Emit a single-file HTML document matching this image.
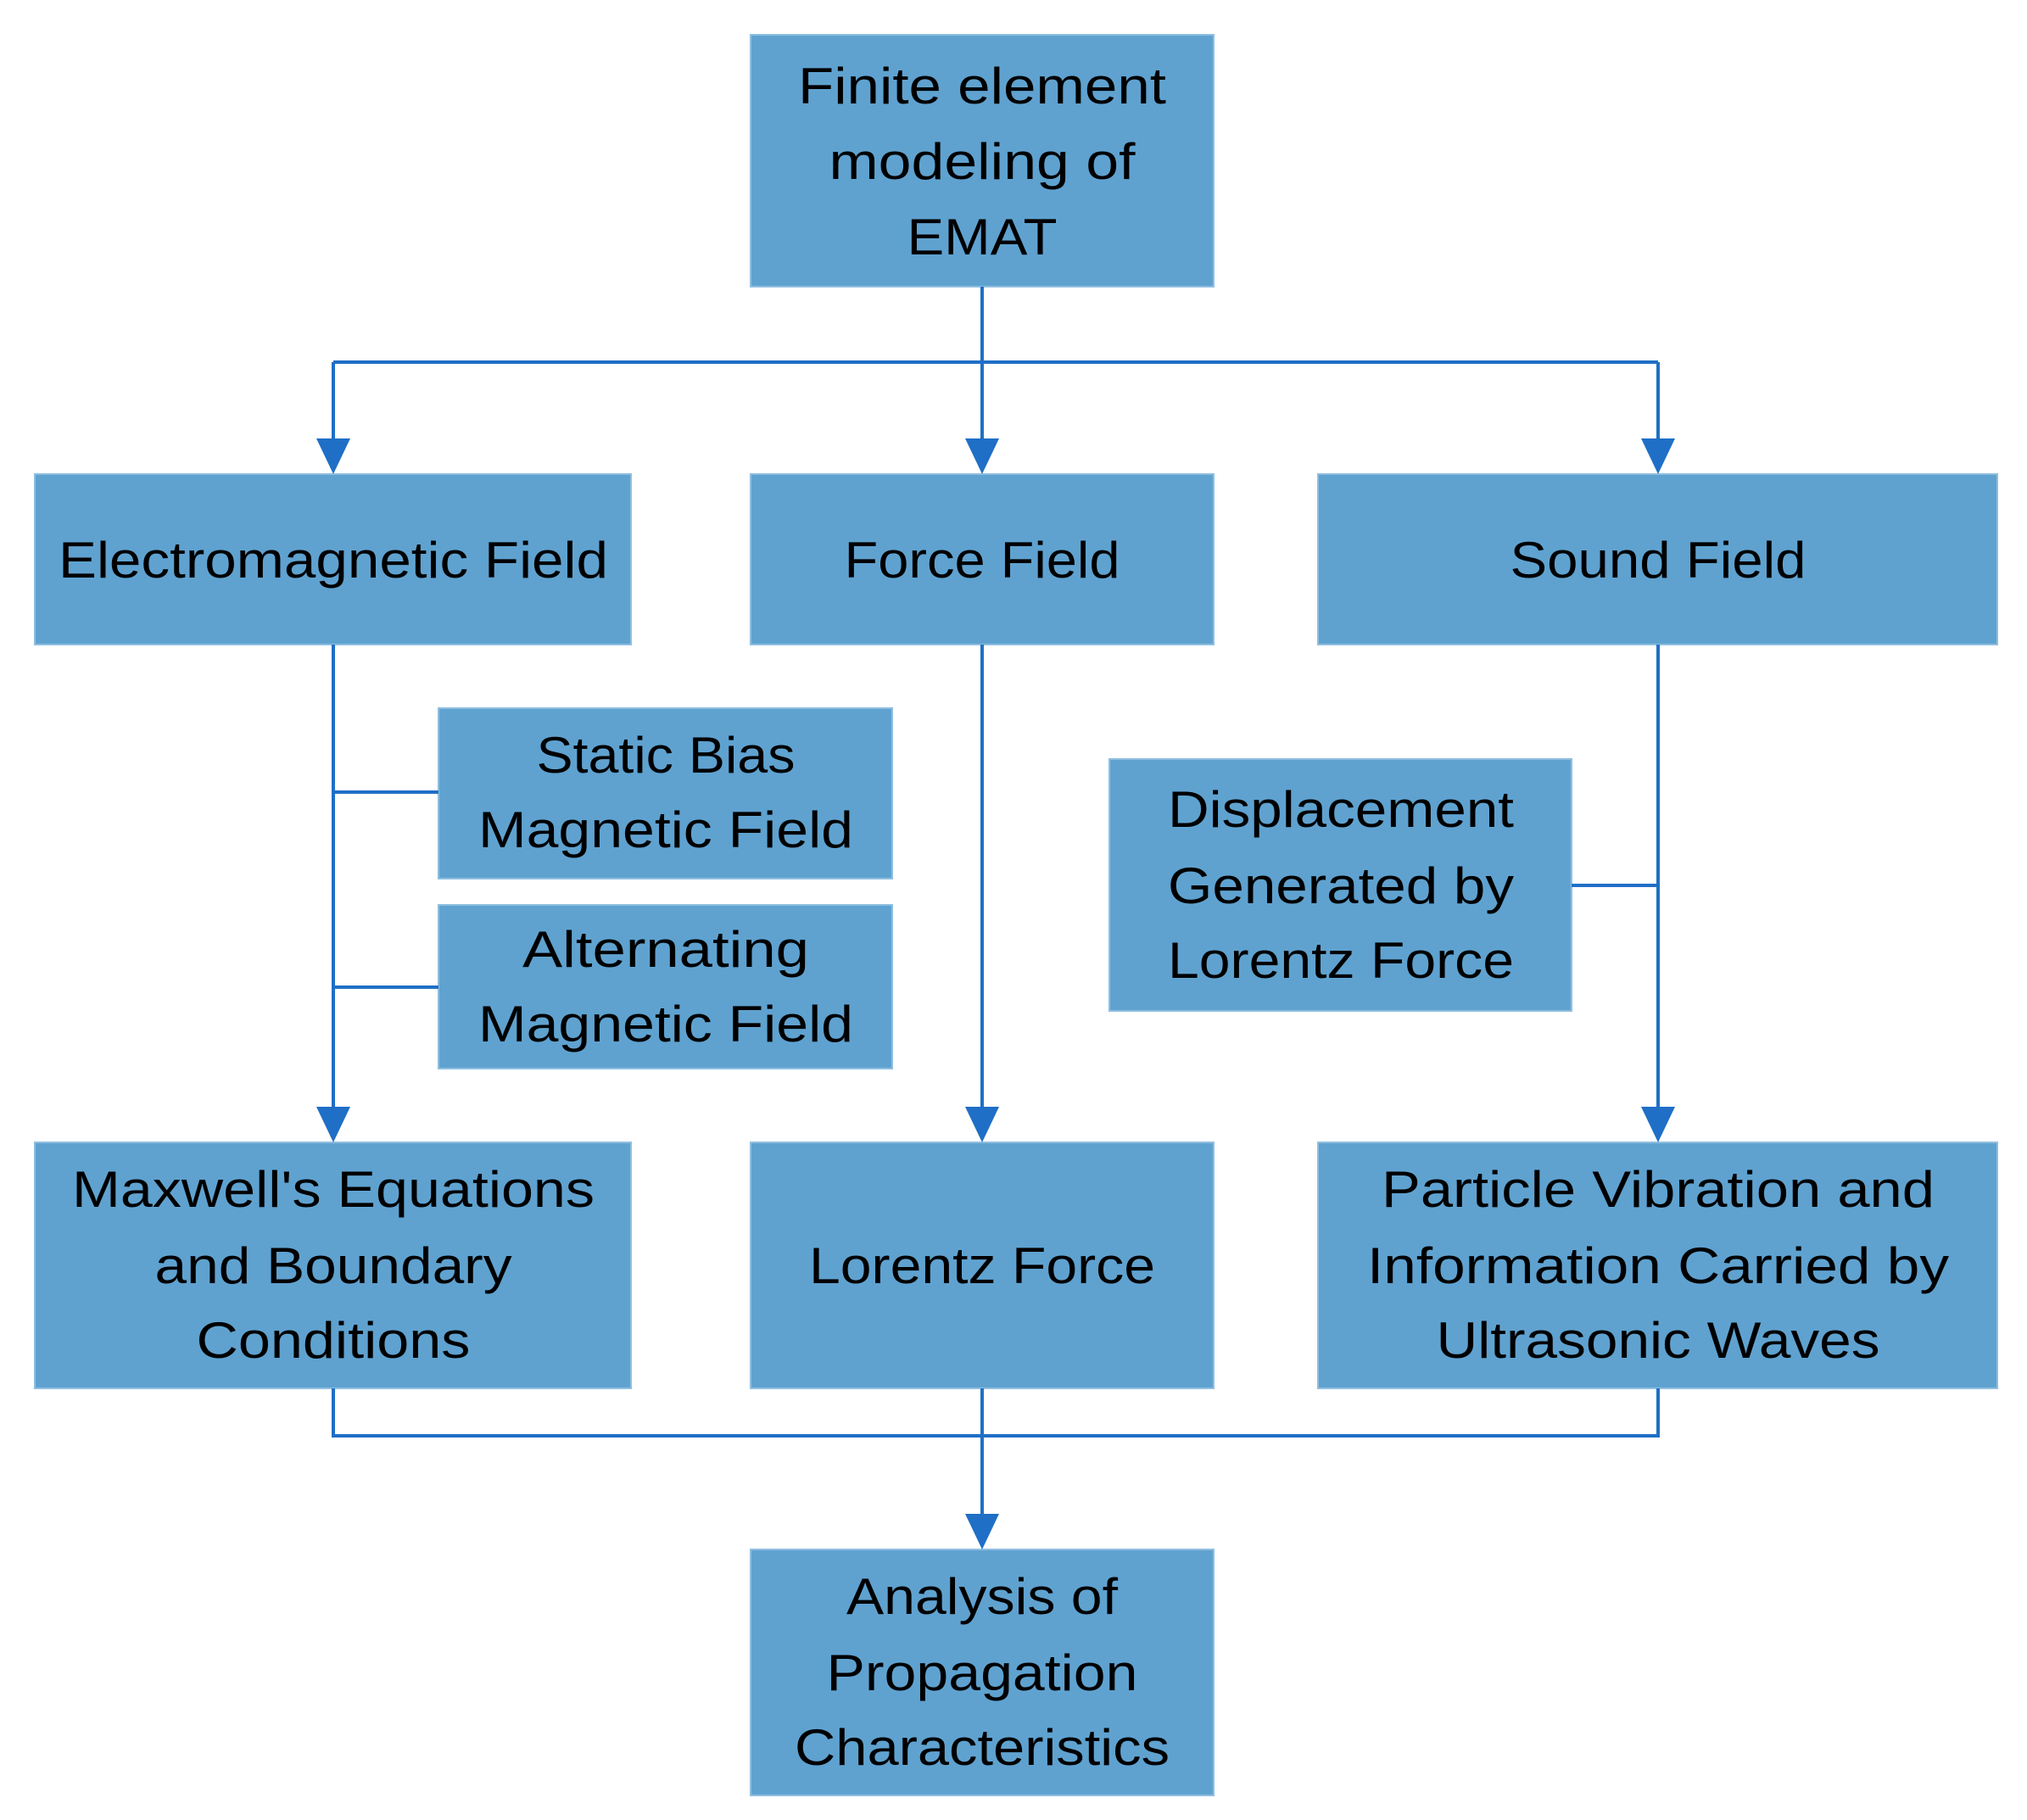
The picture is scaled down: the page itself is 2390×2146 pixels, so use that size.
<!DOCTYPE html><html><head><style>body{margin:0;background:#fff}svg{display:block}</style></head><body>
<svg width="2390" height="2146" xmlns="http://www.w3.org/2000/svg" font-family="Liberation Sans, sans-serif" font-size="60" fill="#000">
<g fill="#5fa2d0" stroke="#8fbfe0" stroke-width="2">
<rect x="885" y="41" width="546" height="297"/>
<rect x="41" y="559" width="703" height="201"/>
<rect x="885" y="559" width="546" height="201"/>
<rect x="1554" y="559" width="801" height="201"/>
<rect x="517" y="835" width="535" height="201"/>
<rect x="517" y="1067" width="535" height="193"/>
<rect x="1308" y="895" width="545" height="297"/>
<rect x="41" y="1347" width="703" height="290"/>
<rect x="885" y="1347" width="546" height="290"/>
<rect x="1554" y="1347" width="801" height="290"/>
<rect x="885" y="1827" width="546" height="290"/>
</g>
<g stroke="#1f6fc6" stroke-width="4" fill="none">
<path d="M1158 338V520M393 427H1955M393 427V520M1955 427V520"/>
<path d="M393 760V1308M393 934H517M393 1164H517"/>
<path d="M1158 760V1308"/>
<path d="M1955 760V1308M1853 1044H1955"/>
<path d="M393 1637V1693H1955V1637M1158 1637V1788"/>
</g>
<g fill="#1f6fc6">
<path d="M373 517H413L393 559Z"/><path d="M1138 517H1178L1158 559Z"/><path d="M1935 517H1975L1955 559Z"/>
<path d="M373 1305H413L393 1347Z"/><path d="M1138 1305H1178L1158 1347Z"/><path d="M1935 1305H1975L1955 1347Z"/>
<path d="M1138 1785H1178L1158 1827Z"/>
</g>
<g text-anchor="middle" lengthAdjust="spacingAndGlyphs">
<text x="1158" y="122" textLength="434" lengthAdjust="spacingAndGlyphs">Finite element</text>
<text x="1158" y="211" textLength="361" lengthAdjust="spacingAndGlyphs">modeling of</text>
<text x="1158" y="300" textLength="177" lengthAdjust="spacingAndGlyphs">EMAT</text>
<text x="393" y="681" textLength="648" lengthAdjust="spacingAndGlyphs">Electromagnetic Field</text>
<text x="1158" y="681" textLength="325" lengthAdjust="spacingAndGlyphs">Force Field</text>
<text x="1955" y="681" textLength="349" lengthAdjust="spacingAndGlyphs">Sound Field</text>
<text x="785" y="911" textLength="305" lengthAdjust="spacingAndGlyphs">Static Bias</text>
<text x="785" y="999" textLength="442" lengthAdjust="spacingAndGlyphs">Magnetic Field</text>
<text x="785" y="1140" textLength="338" lengthAdjust="spacingAndGlyphs">Alternating</text>
<text x="785" y="1228" textLength="442" lengthAdjust="spacingAndGlyphs">Magnetic Field</text>
<text x="1581" y="975" textLength="408" lengthAdjust="spacingAndGlyphs">Displacement</text>
<text x="1581" y="1065" textLength="408" lengthAdjust="spacingAndGlyphs">Generated by</text>
<text x="1581" y="1153" textLength="408" lengthAdjust="spacingAndGlyphs">Lorentz Force</text>
<text x="393" y="1423" textLength="616" lengthAdjust="spacingAndGlyphs">Maxwell's Equations</text>
<text x="393" y="1513" textLength="421" lengthAdjust="spacingAndGlyphs">and Boundary</text>
<text x="393" y="1601" textLength="323" lengthAdjust="spacingAndGlyphs">Conditions</text>
<text x="1158" y="1513" textLength="408" lengthAdjust="spacingAndGlyphs">Lorentz Force</text>
<text x="1955" y="1423" textLength="652" lengthAdjust="spacingAndGlyphs">Particle Vibration and</text>
<text x="1955" y="1513" textLength="686" lengthAdjust="spacingAndGlyphs">Information Carried by</text>
<text x="1955" y="1601" textLength="523" lengthAdjust="spacingAndGlyphs">Ultrasonic Waves</text>
<text x="1158" y="1903" textLength="320" lengthAdjust="spacingAndGlyphs">Analysis of</text>
<text x="1158" y="1993" textLength="367" lengthAdjust="spacingAndGlyphs">Propagation</text>
<text x="1158" y="2081" textLength="442" lengthAdjust="spacingAndGlyphs">Characteristics</text>
</g>
</svg></body></html>
